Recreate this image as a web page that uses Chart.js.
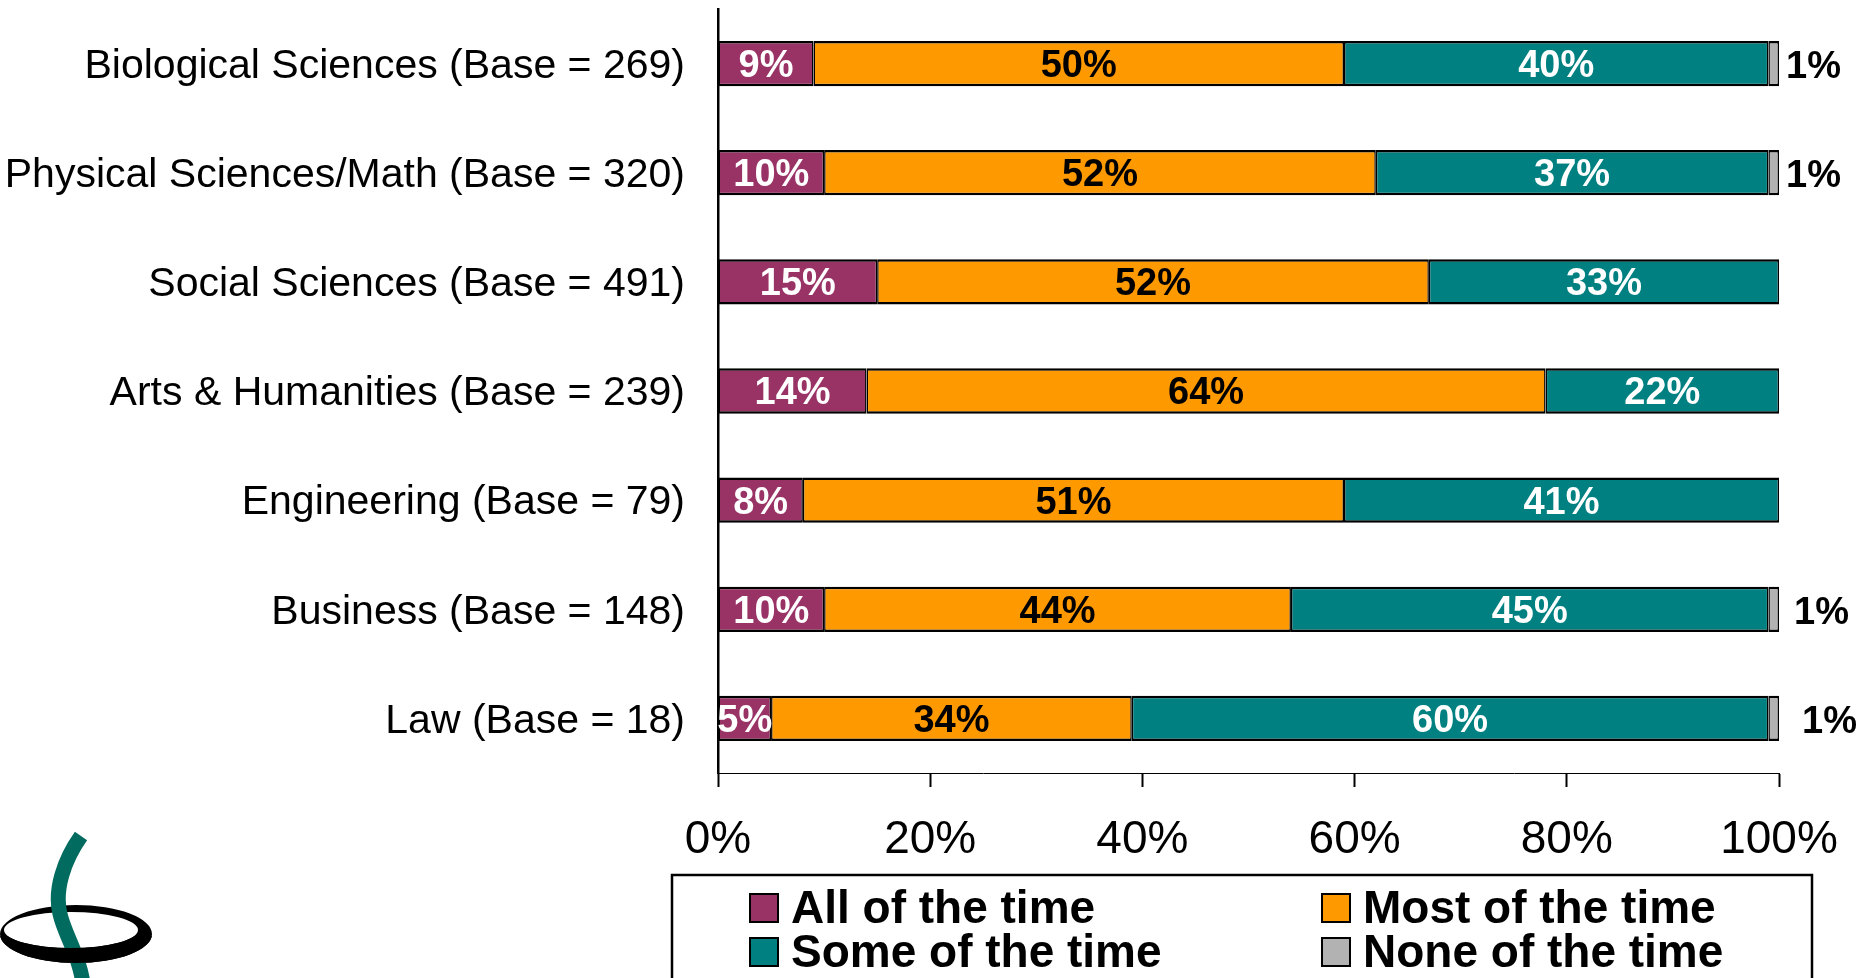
<!DOCTYPE html>
<html>
<head>
<meta charset="utf-8">
<title>Share of time by field</title>
<script src="https://cdn.jsdelivr.net/npm/chart.js"></script>
<style>
    html, body { margin: 0; padding: 0; background: #fff; }
    #wrap { position: relative; width: 1860px; height: 978px; }
</style>
</head>
<body>
<div id="wrap"><canvas id="fieldChart"></canvas></div>
<script>
// Categories (y axis)
const fields = [
    'Biological Sciences (Base = 269)',
    'Physical Sciences/Math (Base = 320)',
    'Social Sciences (Base = 491)',
    'Arts & Humanities (Base = 239)',
    'Engineering (Base = 79)',
    'Business (Base = 148)',
    'Law (Base = 18)'
];

// Series values (percent)
const allOfTheTime  = [9, 10, 15, 14, 8, 10, 5];
const mostOfTheTime = [50, 52, 52, 64, 51, 44, 34];
const someOfTheTime = [40, 37, 33, 22, 41, 45, 60];
const noneOfTheTime = [1, 1, 0, 0, 0, 1, 1];

const seriesNames = ['All of the time', 'Most of the time', 'Some of the time', 'None of the time'];

// x axis tick values
const xTicks = [0, 20, 40, 60, 80, 100];

// styling
const FONT = "'Liberation Sans', Arial, sans-serif";
const fillColors = ['#993366', '#FF9900', '#008080', '#B2B2B2'];
const labelColors = ['#fff', '#000', '#fff', '#000'];
const noneLabelShift = [0, 0, 0, 0, 0, 8, 16]; // small nudges for the outside "1%" labels

const barLabels = {
    id: 'barLabels',
    afterDatasetsDraw(chart) {
        const ctx = chart.ctx;
        ctx.save();
        ctx.font = 'bold 38px ' + FONT;
        ctx.textBaseline = 'middle';
        chart.data.datasets.forEach((ds, i) => {
            const meta = chart.getDatasetMeta(i);
            meta.data.forEach((bar, j) => {
                const v = ds.data[j];
                if (!v) return;
                if (i === 3) {
                    ctx.textAlign = 'left';
                    ctx.fillStyle = '#000';
                    ctx.fillText(v + '%', bar.x + 7 + noneLabelShift[j], bar.y + 4);
                } else {
                    ctx.textAlign = 'center';
                    ctx.fillStyle = labelColors[i];
                    ctx.fillText(v + '%', (bar.x + bar.base) / 2, bar.y + 3);
                }
            });
        });
        ctx.restore();
    }
};

// legend in a box, 2 x 2 grid
const boxedLegend = {
    id: 'boxedLegend',
    afterDraw(chart) {
        const ctx = chart.ctx;
        const area = chart.chartArea;
        const top = chart.scales.x.bottom;
        ctx.save();
        ctx.strokeStyle = '#000';
        ctx.lineWidth = 2.5;
        ctx.strokeRect(area.left - 46, top, area.right - area.left + 79, 140);
        ctx.font = 'bold 46px ' + FONT;
        ctx.textBaseline = 'middle';
        ctx.textAlign = 'left';
        chart.data.datasets.forEach((ds, i) => {
            const x = i % 2 ? area.left + 604 : area.left + 32;
            const y = i < 2 ? top + 33 : top + 77;
            ctx.fillStyle = ds.backgroundColor;
            ctx.fillRect(x, y - 14, 28, 28);
            ctx.lineWidth = 2;
            ctx.strokeRect(x, y - 14, 28, 28);
            ctx.fillStyle = '#000';
            ctx.fillText(ds.label, x + 41, y + 2);
        });
        ctx.restore();
    }
};

// little logo bottom left
const logo = {
    id: 'logo',
    afterDraw(chart) {
        const ctx = chart.ctx;
        const ring = () => {
            ctx.beginPath();
            ctx.ellipse(76, 934, 76, 29, 0, 0, Math.PI * 2);
            ctx.moveTo(138, 930);
            ctx.ellipse(71, 930, 67, 18, 0, 0, Math.PI * 2, true);
            ctx.fill('evenodd');
        };
        ctx.save();
        ctx.fillStyle = '#000';
        ring();
        ctx.strokeStyle = '#006B5E';
        ctx.lineWidth = 15;
        ctx.beginPath();
        ctx.moveTo(81, 836);
        ctx.bezierCurveTo(64, 860, 54, 890, 60, 914);
        ctx.bezierCurveTo(65, 936, 80, 955, 84, 990);
        ctx.stroke();
        // front half of the ring goes over the stem
        ctx.beginPath();
        ctx.rect(0, 936, 200, 60);
        ctx.clip();
        ring();
        ctx.restore();
    }
};

const series = [allOfTheTime, mostOfTheTime, someOfTheTime, noneOfTheTime];

const chart = new Chart(document.getElementById('fieldChart'), {
    type: 'bar',
    data: {
        labels: fields,
        datasets: series.map((values, i) => ({
            label: seriesNames[i],
            data: values,
            backgroundColor: fillColors[i],
            borderColor: '#000',
            borderWidth: { top: 2.5, bottom: 2.5, left: 1.5, right: 1.5 },
            borderSkipped: false,
            barPercentage: 0.415,
            categoryPercentage: 1
        }))
    },
    options: {
        indexAxis: 'y',
        responsive: true,
        maintainAspectRatio: false,
        animation: false,
        layout: { padding: { top: 9, right: 81, bottom: 103, left: 0 } },
        plugins: {
            legend: { display: false },
            tooltip: { enabled: false }
        },
        scales: {
            x: {
                stacked: true,
                min: 0,
                max: 100,
                afterBuildTicks: scale => { scale.ticks = xTicks.map(v => ({ value: v })); },
                afterFit: scale => {
                    scale.height = 102;
                    // "100%" sits in the right margin already
                    scale.paddingLeft = 0;
                    scale.paddingRight = 0;
                },
                ticks: {
                    callback: v => v + '%',
                    font: { family: FONT, size: 46 },
                    color: '#000',
                    padding: 26,
                    maxRotation: 0
                },
                grid: {
                    drawOnChartArea: false,
                    drawTicks: true,
                    tickLength: 14,
                    tickWidth: 2,
                    tickColor: '#000'
                },
                border: { display: true, color: '#000', width: 1 }
            },
            y: {
                stacked: true,
                afterFit: scale => {
                    scale.width = 718;
                    // labels fit inside the category bands, no extra room needed
                    scale.paddingTop = 0;
                    scale.paddingBottom = 0;
                },
                ticks: {
                    font: { family: FONT, size: 41 },
                    color: '#000',
                    padding: 33,
                    labelOffset: 3,
                    autoSkip: false
                },
                grid: { display: false, drawTicks: false },
                border: { display: true, color: '#000', width: 2.5 }
            }
        }
    },
    plugins: [barLabels, boxedLegend, logo]
});
</script>
</body>
</html>
